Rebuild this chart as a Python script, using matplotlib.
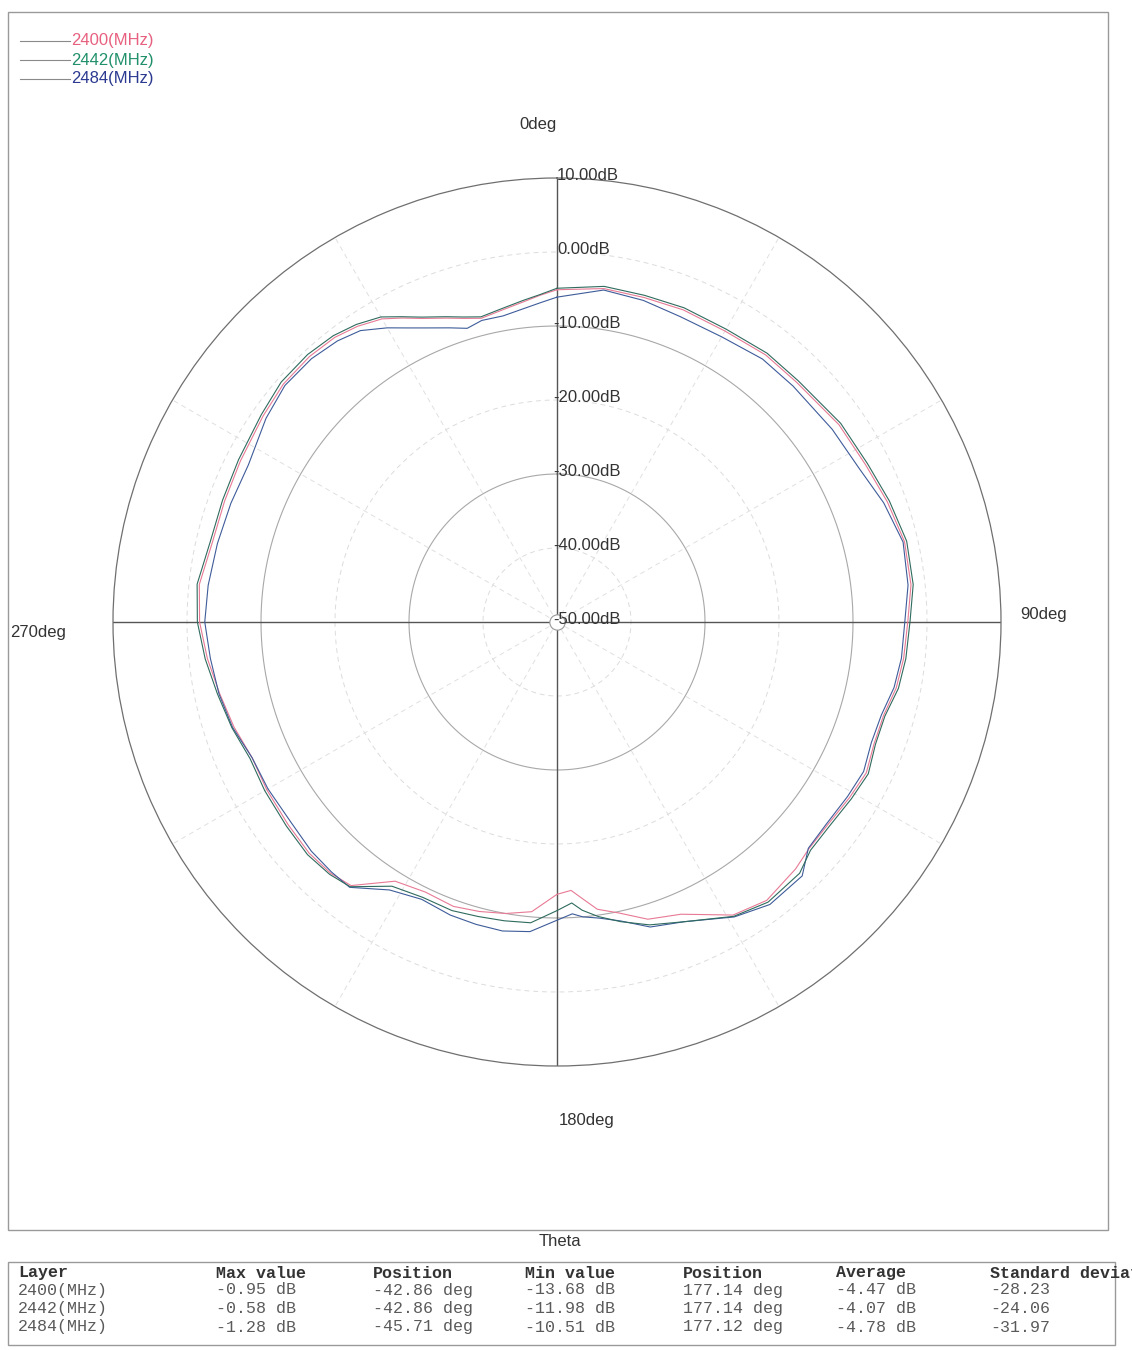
#!/usr/bin/env python3
"""Polar radiation pattern (Theta cut) for three frequencies with summary table."""

import matplotlib

matplotlib.use("Agg")
import matplotlib.pyplot as plt
import numpy as np
from matplotlib.lines import Line2D
from matplotlib.patches import Rectangle

plt.rcParams["font.family"] = ["Liberation Sans", "DejaVu Sans"]

# angle (deg, clockwise from top) and gain (dB)
ANGLE = [0, 8, 15, 22, 30, 38, 45, 55, 63, 70, 77, 84, 90, 96, 101, 106, 111, 116,
         121, 127, 132, 136, 143, 149, 157, 163, 168, 172, 175, 177, 180, 185, 190,
         195, 200, 206, 212, 218, 222, 227, 233, 240, 246, 252, 258, 264, 270, 276,
         283, 290, 297, 305, 311, 317, 322, 326, 330, 333, 336, 340, 343, 346, 350,
         354, 357]
GAIN_2400 = [-5.1, -4.5, -4.6, -4.5, -4.6, -4.2, -4.2, -3.5, -3.2, -2.5, -1.8, -1.9,
             -2.6, -2.9, -3.3, -4.1, -4.1, -3.5, -3.9, -4.3, -4.2, -3.6, -2.9, -3.8,
             -7.1, -8.0, -9.8, -10.8, -12.6, -13.68, -13.2, -10.7, -10.0, -9.5, -9.1,
             -9.4, -8.7, -4.8, -4.3, -4.2, -4.5, -4.7, -4.9, -4.1, -3.4, -2.5, -1.7,
             -1.4, -2.2, -2.2, -2.0, -1.5, -1.0, -0.95, -1.2, -1.8, -2.7, -3.9, -5.1,
             -6.3, -7.1, -7.7, -7.2, -6.5, -5.8]
GAIN_2442 = [-4.9, -4.2, -4.3, -4.2, -4.3, -3.9, -3.9, -3.2, -2.9, -2.2, -1.5, -1.6,
             -2.3, -2.6, -3.0, -3.9, -3.9, -3.2, -3.6, -4.0, -3.9, -2.8, -2.6, -3.6,
             -6.0, -7.2, -8.6, -9.8, -10.9, -11.98, -11.0, -9.2, -9.0, -8.8, -8.5,
             -8.6, -7.9, -4.6, -4.1, -3.9, -4.2, -4.4, -4.6, -3.8, -3.1, -2.2, -1.4,
             -1.1, -1.9, -1.9, -1.7, -1.2, -0.6, -0.58, -0.9, -1.5, -2.4, -3.7, -4.9,
             -6.1, -6.9, -7.5, -7.0, -6.3, -5.7]
GAIN_2484 = [-6.1, -4.7, -5.0, -5.5, -5.5, -4.9, -4.9, -4.6, -4.2, -3.0, -2.0, -2.3,
             -3.0, -3.2, -3.6, -4.4, -4.5, -3.9, -4.2, -4.5, -4.3, -2.3, -2.2, -3.5,
             -6.0, -6.9, -8.7, -9.6, -10.0, -10.51, -9.7, -8.0, -7.6, -7.7, -7.85,
             -8.3, -7.3, -4.5, -4.5, -4.6, -5.0, -4.9, -4.9, -3.9, -3.3, -2.9, -2.4,
             -2.6, -2.9, -3.1, -3.2, -2.0, -1.28, -1.35, -1.8, -2.5, -4.1, -5.4, -6.5,
             -7.7, -8.5, -8.0, -8.0, -7.4, -6.8]

SERIES = ["2400(MHz)", "2442(MHz)", "2484(MHz)"]
LINE_COLORS = ["#e87a95", "#2f6b5e", "#3e5c9a"]
TEXT_COLORS = ["#e8607f", "#20906a", "#2b3990"]

RINGS = [10, 0, -10, -20, -30, -40, -50]

TABLE_HEAD = ["Layer", "Max value", "Position", "Min value", "Position", "Average",
              "Standard deviation"]
MAX_VAL = ["-0.95 dB", "-0.58 dB", "-1.28 dB"]
MAX_POS = ["-42.86 deg", "-42.86 deg", "-45.71 deg"]
MIN_VAL = ["-13.68 dB", "-11.98 dB", "-10.51 dB"]
MIN_POS = ["177.14 deg", "177.14 deg", "177.12 deg"]
AVERAGE = ["-4.47 dB", "-4.07 dB", "-4.78 dB"]
STD_DEV = ["-28.23", "-24.06", "-31.97"]

W, H = 1132, 1350


def fx(px):
    return px / W


def fy(py):
    return 1 - py / H


fig = plt.figure(figsize=(W / 100, H / 100), dpi=100)
fig.patch.set_facecolor("white")

ax = fig.add_axes([fx(113), fy(1066), 888 / W, 888 / H], projection="polar")
ax.set_theta_zero_location("N")
ax.set_theta_direction(-1)
ax.set_rlim(-50, 10)
ax.grid(False)
ax.set_xticks([])
ax.set_yticks([])
ax.spines["polar"].set_color("#6f6f6f")
ax.spines["polar"].set_linewidth(0.9)

full = np.linspace(0, 2 * np.pi, 721)
for r in [-10, -30]:
    ax.plot(full, np.full_like(full, r), color="#a8a8a8", lw=0.8, zorder=1)
for r in [0, -20, -40]:
    ax.plot(full, np.full_like(full, r), color="#dcdcdc", lw=0.7,
            ls=(0, (5, 4)), zorder=1)
for a in range(0, 360, 30):
    if a % 90:
        ax.plot([np.radians(a)] * 2, [-50, 10], color="#e0e0e0", lw=0.7,
                ls=(0, (5, 4)), zorder=1)
for a in [0, 90, 180, 270]:
    ax.plot([np.radians(a)] * 2, [-50, 10], color="#555555", lw=1.0, zorder=2)

theta = np.radians(ANGLE + [ANGLE[0] + 360])
for gains, color in zip([GAIN_2400, GAIN_2484, GAIN_2442],
                        [LINE_COLORS[0], LINE_COLORS[2], LINE_COLORS[1]]):
    ax.plot(theta, gains + [gains[0]], color=color, lw=0.8, zorder=3)

ax.plot([0], [-50], marker="o", ms=11, mfc="white", mec="#999999", mew=0.8,
        zorder=5, clip_on=False)

for r in RINGS:
    dx = -4 if r < 0 else 0
    ax.annotate(f"{r:.2f}dB", xy=(0, r), xytext=(dx, 2), textcoords="offset pixels",
                ha="left", va="center", fontsize=12, color="#333333", zorder=6,
                annotation_clip=False)

# angle labels
fig.text(fx(538), fy(124), "0deg", ha="center", va="center", fontsize=12, color="#333333")
fig.text(fx(1020), fy(614), "90deg", ha="left", va="center", fontsize=12, color="#333333")
fig.text(fx(587), fy(1121), "180deg", ha="center", va="center", fontsize=12, color="#333333")
fig.text(fx(10), fy(632), "270deg", ha="left", va="center", fontsize=12, color="#333333")
fig.text(fx(560), fy(1241), "Theta", ha="center", va="center", fontsize=12, color="#333333")

# legend
for i, (name, tcolor) in enumerate(zip(SERIES, TEXT_COLORS)):
    y = 41 + 19 * i
    fig.add_artist(Line2D([fx(20), fx(70)], [fy(y), fy(y)], color="#8a8a8a", lw=0.8))
    fig.text(fx(71), fy(y), name, ha="left", va="center", fontsize=12, color=tcolor)

# frames
fig.add_artist(Rectangle((fx(8), fy(1230)), 1100 / W, 1218 / H, fill=False,
                         edgecolor="#9a9a9a", lw=1.0))
fig.add_artist(Rectangle((fx(8), fy(1345)), 1107 / W, 83 / H, fill=False,
                         edgecolor="#9a9a9a", lw=1.0))

# summary table
col_x = [18, 216, 373, 525, 683, 836, 990]
for x, head in zip(col_x, TABLE_HEAD):
    fig.text(fx(x), fy(1273), head, ha="left", va="center", fontsize=12,
             family="Liberation Mono", weight="bold", color="#333333")
rows = zip(SERIES, MAX_VAL, MAX_POS, MIN_VAL, MIN_POS, AVERAGE, STD_DEV)
for i, row in enumerate(rows):
    y = 1290 + 18.5 * i
    for x, cell in zip(col_x, row):
        fig.text(fx(x), fy(y), cell, ha="left", va="center", fontsize=12,
                 family="Liberation Mono", color="#5a5a5a")

fig.savefig("out.png", dpi=100)
